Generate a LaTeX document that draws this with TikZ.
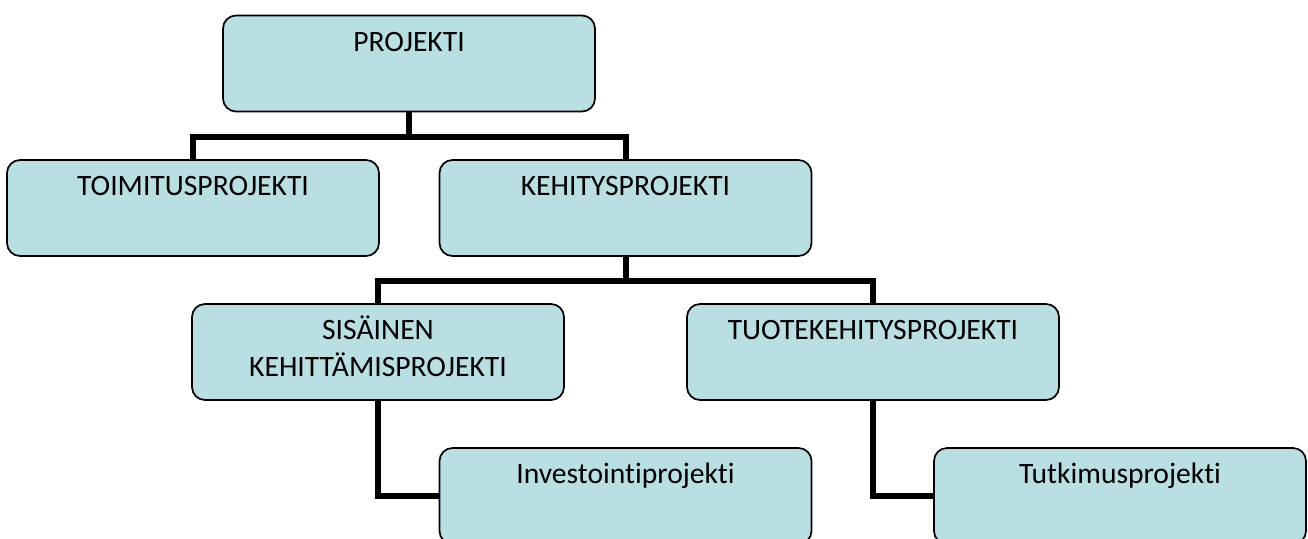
\documentclass[tikz,border=0pt]{standalone}
\usepackage{fontspec}
\setmainfont{Carlito}[Ligatures=NoCommon]
\usetikzlibrary{positioning}

\definecolor{boxfill}{RGB}{185,223,227}

\tikzset{
  orgbox/.style={
    draw=black, line width=0.85pt, fill=boxfill, rounded corners=6.5pt,
    minimum width=186pt, minimum height=48pt, inner sep=0pt,
    execute at begin node={\begin{minipage}[c][48pt][t]{184pt}\centering
      \fontsize{14.8}{18.5}\selectfont\vspace*{5pt}\strut},
    execute at end node={\strut\end{minipage}}
  },
  conn/.style={draw=black, line width=3pt}
}

\begin{document}
\begin{tikzpicture}[x=0.5pt, y=-0.5pt]
  \useasboundingbox (0,0) rectangle (1308,538);
  \clip (0,0) rectangle (1308,538);

  % boxes of the hierarchy
  \node[orgbox] (proj) at (409,63.5) {PROJEKTI};
  \node[orgbox] (toim) at (193,208) {TOIMITUSPROJEKTI};
  \node[orgbox] (keh)  at (625.5,208) {KEHITYSPROJEKTI};
  \node[orgbox] (sis)  at (378,352) {SISÄINEN\\KEHITTÄMISPROJEKTI};
  \node[orgbox] (tuo)  at (873,352) {TUOTEKEHITYSPROJEKTI};
  \node[orgbox] (inv)  at (625.5,496) {Investointiprojekti};
  \node[orgbox] (tut)  at (1120,496) {Tutkimusprojekti};

  % tree connectors
  \draw[conn] (proj.south) -- ++(0,25) coordinate (pbar) -| (toim.north);
  \draw[conn] (pbar) -| (keh.north);
  \draw[conn] (keh.south) -- ++(0,24) coordinate (kbar) -| (sis.north);
  \draw[conn] (kbar) -| (tuo.north);
  \draw[conn] (sis.south) |- (inv.west);
  \draw[conn] (tuo.south) |- (tut.west);
\end{tikzpicture}
\end{document}
